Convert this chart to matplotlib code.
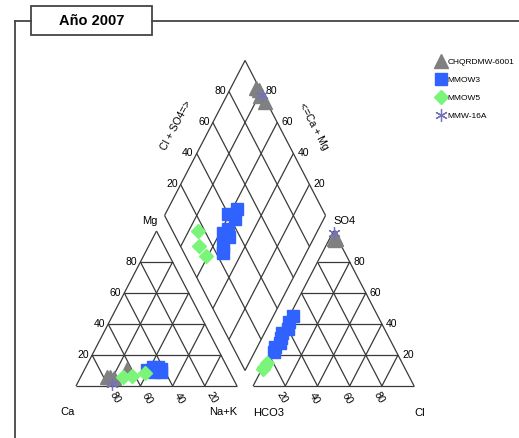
import numpy as np
import matplotlib
matplotlib.use("Agg")
import matplotlib.pyplot as plt
from matplotlib.lines import Line2D
from matplotlib.patches import Rectangle
from matplotlib.transforms import offset_copy

plt.rcParams['font.family'] = ['Liberation Sans', 'DejaVu Sans']

# ---------------- water chemistry (percent of meq/L) ----------------
series_names = ["CHQRDMW-6001", "MMOW3", "MMOW5", "MMW-16A"]

chq_ca = [78, 76, 74, 63]
chq_mg = [6, 6, 5, 11]
chq_nak = [16, 18, 21, 26]
chq_hco3 = [2, 1, 2, 1]
chq_cl = [4, 3, 3, 4]
chq_so4 = [94, 96, 95, 95]

mmow3_mg = [9, 10, 12, 11, 9, 10, 12, 10]
mmow3_nak = [48, 46, 42, 47, 44, 39, 45, 43]
mmow3_ca = [100 - m - n for m, n in zip(mmow3_mg, mmow3_nak)]
mmow3_cl = [2, 1, 3, 2, 1, 3, 2, 2]
mmow3_so4 = [22, 25, 28, 31, 34, 37, 41, 45]
mmow3_hco3 = [100 - c - s for c, s in zip(mmow3_cl, mmow3_so4)]

mmow5_mg = [6, 6.5, 8.5]
mmow5_nak = [26, 31.5, 38.5]
mmow5_ca = [100 - m - n for m, n in zip(mmow5_mg, mmow5_nak)]
mmow5_cl = [1, 0.5, 0.5]
mmow5_so4 = [15, 11, 12]
mmow5_hco3 = [100 - c - s for c, s in zip(mmow5_cl, mmow5_so4)]

mmw16_ca = [77]
mmw16_mg = [1]
mmw16_nak = [22]
mmw16_hco3 = [0.5]
mmw16_cl = [0.5]
mmw16_so4 = [99]

grid_ticks = [20, 40, 60, 80]

# ---------------- Piper geometry ----------------
H = np.sqrt(3) / 2
GAP = 0.1
W, HT = 519, 438
SX, SY = 161.0, 179.0       # pixels per unit
X0, Y0 = 76.0, 386.0        # pixel position of the Ca corner

def cation_xy(ca, mg, nak):
    ca, mg, nak = (np.asarray(v, float) / 100 for v in (ca, mg, nak))
    return nak + mg / 2, H * mg

def anion_xy(hco3, cl, so4):
    hco3, cl, so4 = (np.asarray(v, float) / 100 for v in (hco3, cl, so4))
    return 1 + GAP + cl + so4 / 2, H * so4

def diamond_xy(xc, yc, xa, ya):
    t = (xa - xc) + (ya - yc) / (2 * H)
    return xc + t / 2, yc + t * H

def diamond_pq(p, q):
    # p = Ca+Mg fraction, q = Cl+SO4 fraction
    t = GAP + p + q
    return 1 - p + t / 2, t * H

fig = plt.figure(figsize=(W / 100, HT / 100), dpi=100)
ax = fig.add_axes([0, 0, 1, 1])
ax.set_xlim(-X0 / SX, (W - X0) / SX)
ax.set_ylim(-(HT - Y0) / SY, Y0 / SY)
ax.axis('off')

LC = '#3a3a3a'
LW = 0.9

def seg(p1, p2):
    ax.plot([p1[0], p2[0]], [p1[1], p2[1]], color=LC, lw=LW, zorder=1,
            solid_capstyle='butt')

def off(dx, dy):
    return offset_copy(ax.transData, fig=fig, x=dx, y=dy, units='dots')

TICK_FS = 7.5
CORNER_FS = 8

# cation triangle
c_corners = [cation_xy(100, 0, 0), cation_xy(0, 0, 100), cation_xy(0, 100, 0)]
for i in range(3):
    seg(c_corners[i], c_corners[(i + 1) % 3])
for k in grid_ticks:
    seg(cation_xy(100 - k, k, 0), cation_xy(0, k, 100 - k))
    seg(cation_xy(k, 100 - k, 0), cation_xy(k, 0, 100 - k))
    seg(cation_xy(100 - k, 0, k), cation_xy(0, 100 - k, k))
    x, y = cation_xy(100 - k, k, 0)
    ax.text(x, y, f"{k}", fontsize=TICK_FS, ha='right', va='center',
            transform=off(-3, 0))
    x, y = cation_xy(k, 0, 100 - k)
    ax.text(x, y, f"{k}", fontsize=TICK_FS, ha='center', va='center',
            rotation=-60, rotation_mode='anchor', transform=off(7, -12))

# anion triangle
a_corners = [anion_xy(100, 0, 0), anion_xy(0, 100, 0), anion_xy(0, 0, 100)]
for i in range(3):
    seg(a_corners[i], a_corners[(i + 1) % 3])
for k in grid_ticks:
    seg(anion_xy(100 - k, 0, k), anion_xy(0, 100 - k, k))
    seg(anion_xy(100 - k, k, 0), anion_xy(0, k, 100 - k))
    seg(anion_xy(k, 100 - k, 0), anion_xy(k, 0, 100 - k))
    x, y = anion_xy(0, 100 - k, k)
    ax.text(x, y, f"{k}", fontsize=TICK_FS, ha='left', va='center',
            transform=off(4, 0))
    x, y = anion_xy(100 - k, k, 0)
    ax.text(x, y, f"{k}", fontsize=TICK_FS, ha='center', va='center',
            rotation=-60, rotation_mode='anchor', transform=off(-3, -12))

# diamond
d_corners = [diamond_pq(0, 0), diamond_pq(1, 0), diamond_pq(1, 1), diamond_pq(0, 1)]
for i in range(4):
    seg(d_corners[i], d_corners[(i + 1) % 4])
for k in grid_ticks:
    f = k / 100
    seg(diamond_pq(f, 0), diamond_pq(f, 1))
    seg(diamond_pq(0, f), diamond_pq(1, f))
    x, y = diamond_pq(1, f)
    ax.text(x, y, f"{k}", fontsize=TICK_FS, ha='right', va='center',
            transform=off(-3, 0))
    x, y = diamond_pq(f, 1)
    ax.text(x, y, f"{k}", fontsize=TICK_FS, ha='left', va='center',
            transform=off(4, 0))

x, y = diamond_pq(1, 0.5)
ax.text(x, y, "Cl + SO4=>", fontsize=TICK_FS, ha='center', va='center',
        rotation=62, rotation_mode='anchor', transform=off(-29, 12))
x, y = diamond_pq(0.5, 1)
ax.text(x, y, "<=Ca + Mg", fontsize=TICK_FS, ha='center', va='center',
        rotation=-62, rotation_mode='anchor', transform=off(28, 12))

# corner names
def corner_label(pt, txt, dx, dy):
    ax.text(pt[0], pt[1], txt, fontsize=CORNER_FS, ha='center', va='center',
            transform=off(dx, dy))

corner_label(c_corners[0], "Ca", -8, -26)
corner_label(c_corners[1], "Na+K", -14, -26)
corner_label(c_corners[2], "Mg", -7, 10)
corner_label(a_corners[0], "HCO3", 16, -27)
corner_label(a_corners[1], "Cl", 6, -27)
corner_label(a_corners[2], "SO4", 11, 10)

# ---------------- samples ----------------
styles = [
    dict(marker='^', color='#808080', ms=9.5, mec='#808080'),
    dict(marker='s', color='#2f62ff', ms=8.2, mec='#2f62ff'),
    dict(marker='D', color='#7af57a', ms=7.3, mec='#7af57a'),
    dict(marker=(6, 2, 0), color='#7272b8', ms=9, mec='#7272b8', mew=0.9),
]
series = [
    (chq_ca, chq_mg, chq_nak, chq_hco3, chq_cl, chq_so4),
    (mmow3_ca, mmow3_mg, mmow3_nak, mmow3_hco3, mmow3_cl, mmow3_so4),
    (mmow5_ca, mmow5_mg, mmow5_nak, mmow5_hco3, mmow5_cl, mmow5_so4),
    (mmw16_ca, mmw16_mg, mmw16_nak, mmw16_hco3, mmw16_cl, mmw16_so4),
]

handles = []
for z, (name, st, (ca, mg, nak, hco3, cl, so4)) in enumerate(zip(series_names, styles, series)):
    xc, yc = cation_xy(ca, mg, nak)
    xa, ya = anion_xy(hco3, cl, so4)
    xd, yd = diamond_xy(xc, yc, xa, ya)
    xs = np.concatenate([xc, xa, xd])
    ys = np.concatenate([yc, ya, yd])
    h, = ax.plot(xs, ys, linestyle='none', zorder=3 + z, label=name, **st)
    handles.append(h)

ax.legend(handles=handles, loc='upper left', bbox_to_anchor=(437 / W, 1 - 58.5 / HT),
          bbox_transform=fig.transFigure, frameon=False, fontsize=6,
          handlelength=1.0, handletextpad=0.3, borderpad=0, borderaxespad=0,
          labelspacing=1.2, numpoints=1)

# ---------------- frame and title ----------------
FC = '#444444'
def fline(xs, ys):
    fig.add_artist(Line2D([v / W for v in xs], [1 - v / HT for v in ys],
                          transform=fig.transFigure, color=FC, lw=1.3))

fline([15, 15], [21, HT])
fline([15, 31], [21, 21])
fline([152, W], [21, 21])
fig.add_artist(Rectangle((31 / W, 1 - 35 / HT), 121 / W, 29 / HT,
                         transform=fig.transFigure, fill=False, ec=FC, lw=1.3))
fig.text(91.5 / W, 1 - 21 / HT, "Año 2007", fontsize=10.5, fontweight='bold',
         ha='center', va='center')

fig.savefig("out.png", dpi=100)
